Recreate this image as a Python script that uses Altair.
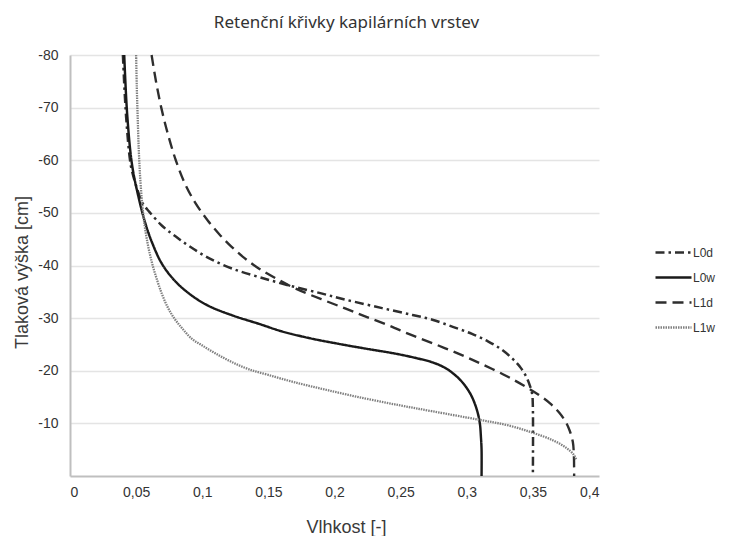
import altair as alt
import pandas as pd

series_names = ["L0d", "L0w", "L1d", "L1w"]
series_colors = ["#2e2e2e", "#1a1a1a", "#2e2e2e", "#808080"]
series_dashes = [[9, 4, 2.5, 4], [1, 0], [11, 6], [1.5, 1]]
series_widths = [2.5, 2.3, 2.6, 2.2]

x_ticks = [0, 0.05, 0.1, 0.15, 0.2, 0.25, 0.3, 0.35, 0.4]
y_ticks = [-80, -70, -60, -50, -40, -30, -20, -10]

l0d_x = [0.040, 0.0425, 0.046, 0.049, 0.0515, 0.0547, 0.060, 0.0698, 0.080, 0.090, 0.105, 0.1227,
         0.143, 0.1656, 0.19, 0.2085, 0.236, 0.259, 0.274, 0.29, 0.304, 0.316, 0.326, 0.3345,
         0.341, 0.3455, 0.348, 0.3495, 0.350, 0.350]
l0d_h = [-80, -68, -59, -56, -54, -51.9, -50.2, -47.5, -45.5, -43.7, -41.4, -39.4,
         -37.8, -36.2, -34.7, -33.5, -31.9, -30.6, -29.7, -28.3, -27.0, -25.6, -24.1, -22.3,
         -20.5, -18.6, -17, -15.5, -13, 0]

l0w_x = [0.041, 0.0433, 0.047, 0.052, 0.057, 0.0623, 0.0698, 0.080, 0.092, 0.105, 0.123, 0.143,
         0.16, 0.181, 0.2034, 0.2236, 0.245, 0.262, 0.274, 0.284, 0.292, 0.298, 0.303, 0.306,
         0.3085, 0.310, 0.3107, 0.3112, 0.3112]
l0w_h = [-80, -68.5, -59, -52.8, -48.0, -44.2, -40.2, -36.9, -34.3, -32.3, -30.5, -28.9,
         -27.5, -26.2, -25.1, -24.2, -23.3, -22.4, -21.6, -20.5, -19.0, -17.4, -15.5, -13.8,
         -11.8, -9.8, -7.5, -5, 0]

l1d_x = [0.0617, 0.065, 0.069, 0.074, 0.080, 0.087, 0.095, 0.104, 0.1127, 0.122, 0.132, 0.143,
         0.156, 0.1707, 0.19, 0.2085, 0.2236, 0.241, 0.258, 0.2765, 0.295, 0.312, 0.330, 0.343,
         0.354, 0.363, 0.370, 0.375, 0.378, 0.3802, 0.381, 0.3812]
l1d_h = [-80, -75, -70, -65, -60, -55.5, -51.8, -48.6, -46.0, -43.6, -41.4, -39.4,
         -37.5, -35.6, -33.6, -31.8, -30.3, -28.6, -26.8, -25.0, -23.1, -21.2, -19.0, -17.2,
         -15.5, -13.8, -12.0, -10.2, -8.5, -6.5, -4, 0]

l1w_x = [0.050, 0.0505, 0.0512, 0.052, 0.053, 0.0545, 0.0565, 0.059, 0.062, 0.0655, 0.0695, 0.074,
         0.079, 0.085, 0.092, 0.100, 0.110, 0.122, 0.135, 0.150, 0.170, 0.195, 0.2236, 0.25,
         0.274, 0.309, 0.33, 0.349, 0.365, 0.375, 0.381, 0.383]
l1w_h = [-80, -74, -68, -62, -57, -52, -47.5, -43.8, -40.5, -37.5, -34.6, -32,
         -29.9, -28.0, -26.1, -24.8, -23.3, -21.7, -20.3, -19.2, -17.8, -16.3, -14.7, -13.4,
         -12.3, -10.7, -9.7, -8.3, -6.8, -5.4, -4.0, -3.0]

rows = []
for name, xs, hs in [("L0d", l0d_x, l0d_h), ("L0w", l0w_x, l0w_h),
                     ("L1d", l1d_x, l1d_h), ("L1w", l1w_x, l1w_h)]:
    for i, (xv, hv) in enumerate(zip(xs, hs)):
        rows.append({"series": name, "vlhkost": xv, "h": hv, "idx": i})
df = pd.DataFrame(rows)

legend = alt.Legend(
    title=None,
    orient="none",
    legendX=596,
    legendY=190,
    padding=0,
    symbolType="M-3,0H3",
    symbolSize=144,
    symbolStrokeWidth=2.2,
    labelOffset=12,
    rowPadding=11,
    labelFont="Liberation Sans",
    labelFontSize=12,
    labelColor="#333333",
)

chart = alt.Chart(df).mark_line(interpolate="catmull-rom").encode(
    x=alt.X(
        "vlhkost:Q",
        scale=alt.Scale(domain=[0, 0.4], nice=False),
        axis=alt.Axis(
            values=x_ticks,
            labelExpr="replace(toString(datum.value), '.', ',')",
            title="Vlhkost [-]",
            grid=False,
            ticks=False,
            tickSize=0,
            domainColor="#bfbfbf",
            domainWidth=2,
            labelPadding=9,
            labelFont="Liberation Sans",
            labelFontSize=14,
            labelColor="#333333",
            titleFont="Liberation Sans",
            titleFontSize=18,
            titleFontWeight="normal",
            titleColor="#3a3a3a",
            titlePadding=19,
            titleX=276,
        ),
    ),
    y=alt.Y(
        "h:Q",
        scale=alt.Scale(domain=[0, -80], nice=False),
        axis=alt.Axis(
            values=y_ticks,
            labelExpr="toString(datum.value)",
            title="Tlaková výška [cm]",
            grid=True,
            gridColor="#e4e4e4",
            gridWidth=1.5,
            ticks=False,
            tickSize=0,
            domainColor="#bfbfbf",
            domainWidth=2,
            labelPadding=12,
            labelFont="Liberation Sans",
            labelFontSize=14,
            labelColor="#333333",
            titleFont="Liberation Sans",
            titleFontSize=18,
            titleFontWeight="normal",
            titleColor="#3a3a3a",
            titlePadding=6,
            titleY=217,
        ),
    ),
    color=alt.Color("series:N", scale=alt.Scale(domain=series_names, range=series_colors), legend=legend),
    strokeDash=alt.StrokeDash("series:N", scale=alt.Scale(domain=series_names, range=series_dashes), legend=legend),
    strokeWidth=alt.StrokeWidth("series:N", scale=alt.Scale(domain=series_names, range=series_widths), legend=None),
    order=alt.Order("idx:Q"),
).properties(
    width=529,
    height=421,
    padding={"left": 5, "top": 6, "right": 5, "bottom": 0},
    title=alt.TitleParams(
        "Retenční křivky kapilárních vrstev",
        font="Noto Sans",
        fontSize=17,
        fontWeight="normal",
        color="#333333",
        anchor="middle",
        dx=12,
        offset=16,
    ),
).configure_view(strokeWidth=0)

chart.save("out.html", embed_options={"renderer": "svg", "actions": False})
